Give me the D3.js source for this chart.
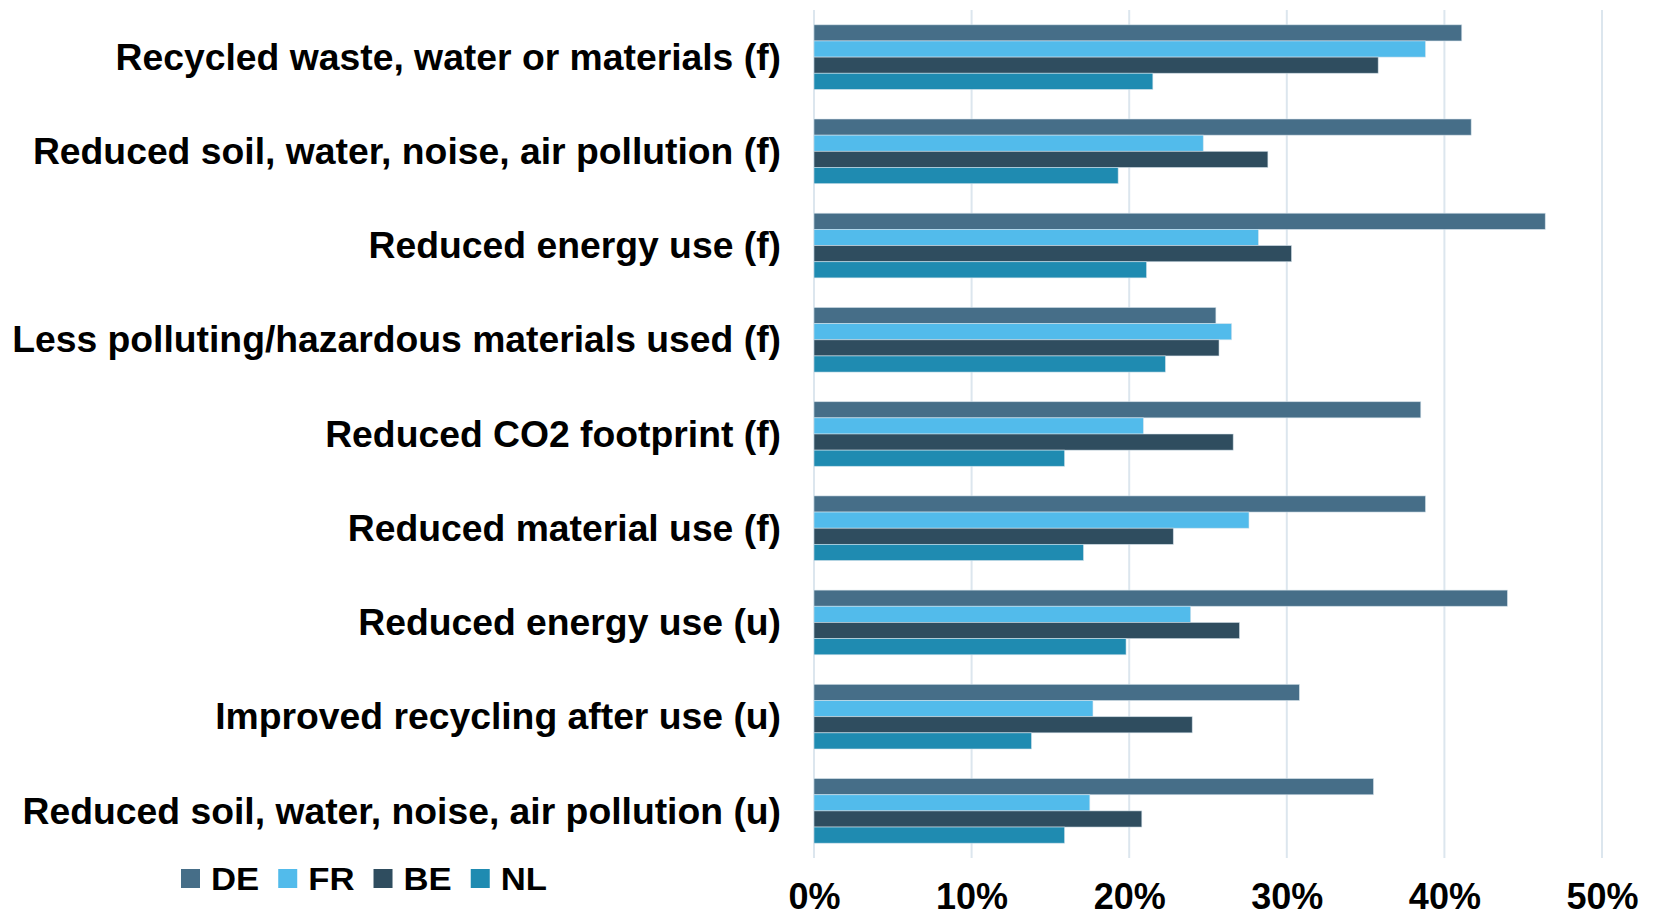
<!DOCTYPE html>
<html>
<head>
<meta charset="utf-8">
<script src="https://cdn.jsdelivr.net/npm/d3@7"></script>
<style>
  html, body { margin: 0; padding: 0; background: #fff; }
  svg { display: block; font-family: "Liberation Sans", Arial, sans-serif; }
</style>
</head>
<body>
<svg id="chart" width="1655" height="917"></svg>
<script>
// Eco-innovation benefits by country, share of firms
const categories = [
  "Recycled waste, water or materials (f)",
  "Reduced soil, water, noise, air pollution (f)",
  "Reduced energy use (f)",
  "Less polluting/hazardous materials used (f)",
  "Reduced CO2 footprint (f)",
  "Reduced material use (f)",
  "Reduced energy use (u)",
  "Improved recycling after use (u)",
  "Reduced soil, water, noise, air pollution (u)"
];
const seriesNames = ["DE", "FR", "BE", "NL"];
const valuesDE = [41.1, 41.7, 46.4, 25.5, 38.5, 38.8, 44.0, 30.8, 35.5];
const valuesFR = [38.8, 24.7, 28.2, 26.5, 20.9, 27.6, 23.9, 17.7, 17.5];
const valuesBE = [35.8, 28.8, 30.3, 25.7, 26.6, 22.8, 27.0, 24.0, 20.8];
const valuesNL = [21.5, 19.3, 21.1, 22.3, 15.9, 17.1, 19.8, 13.8, 15.9];
const tickValues = [0, 10, 20, 30, 40, 50];
const colors = ["#466E88", "#52BBEB", "#2F4D5F", "#1F8BB1"];

const seriesValues = [valuesDE, valuesFR, valuesBE, valuesNL];
const rows = categories.map((c, i) => ({
  category: c,
  values: seriesNames.map((s, j) => ({ key: s, value: seriesValues[j][i] }))
}));

const svg = d3.select("#chart");
const plot = { left: 814, right: 1602, top: 10, bottom: 858 };

const x = d3.scaleLinear().domain([0, 50]).range([plot.left, plot.right]);
const y0 = d3.scaleBand().domain(categories)
  .range([plot.top, plot.bottom]).paddingInner(0.314).paddingOuter(0.157);
const y1 = d3.scaleBand().domain(seriesNames).range([0, y0.bandwidth()]);
const color = d3.scaleOrdinal().domain(seriesNames).range(colors);

// vertical gridlines
svg.append("g").selectAll("line").data(tickValues).join("line")
  .attr("x1", d => x(d)).attr("x2", d => x(d))
  .attr("y1", plot.top).attr("y2", plot.bottom)
  .attr("stroke", "#DCE6EE").attr("stroke-width", 2);

// grouped bars
const groups = svg.append("g").selectAll("g").data(rows).join("g")
  .attr("transform", d => `translate(0,${y0(d.category)})`);
groups.selectAll("rect").data(d => d.values).join("rect")
  .attr("x", x(0))
  .attr("y", d => y1(d.key))
  .attr("width", d => x(d.value) - x(0))
  .attr("height", y1.bandwidth())
  .attr("fill", d => color(d.key))
  .attr("stroke", "rgba(215,228,236,0.7)")
  .attr("stroke-width", 0.8);

// category labels
svg.append("g").selectAll("text").data(categories).join("text")
  .attr("x", 781)
  .attr("y", d => y0(d) + y0.bandwidth() / 2)
  .attr("dy", "0.34em")
  .attr("text-anchor", "end")
  .attr("font-size", 37.3)
  .attr("font-weight", "bold")
  .attr("fill", "#000")
  .text(d => d);

// x axis tick labels
const xAxis = d3.axisBottom(x).tickValues(tickValues)
  .tickFormat(d => d + "%").tickSize(0).tickPadding(0);
const axisG = svg.append("g").attr("transform", "translate(0,883)").call(xAxis);
axisG.select(".domain").remove();
axisG.selectAll("text")
  .attr("font-size", 36)
  .attr("font-weight", "bold")
  .attr("font-family", "'Liberation Sans', Arial, sans-serif")
  .attr("fill", "#000")
  .attr("dy", "0.72em");

// legend
const legend = svg.append("g");
let lx = 181;
seriesNames.forEach(name => {
  legend.append("rect")
    .attr("x", lx).attr("y", 869).attr("width", 19).attr("height", 19)
    .attr("fill", color(name));
  const t = legend.append("text")
    .attr("transform", `translate(${lx + 30},889.5) scale(1.12,1)`)
    .attr("font-size", 31)
    .attr("font-weight", "bold")
    .attr("fill", "#000")
    .text(name);
  lx += 30 + t.node().getComputedTextLength() * 1.12 + 19;
});
</script>
</body>
</html>
